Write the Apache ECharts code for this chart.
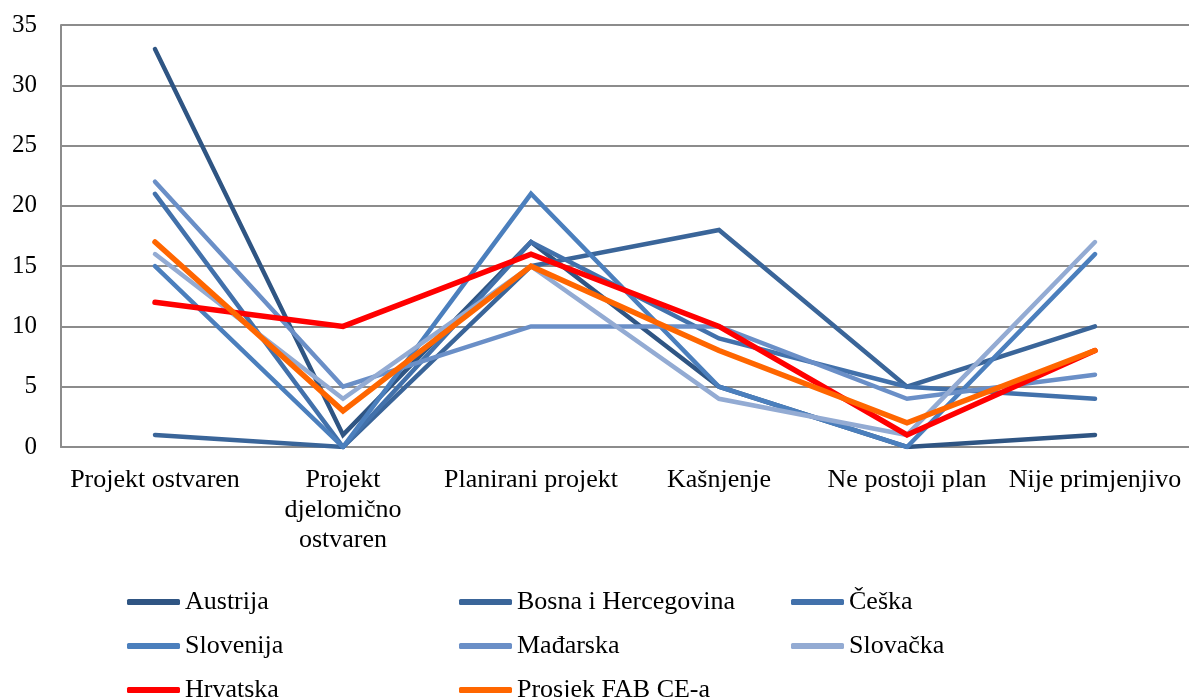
<!DOCTYPE html>
<html>
<head>
<meta charset="utf-8">
<script src="https://cdn.jsdelivr.net/npm/echarts@6/dist/echarts.min.js"></script>
<style>
    html, body { margin: 0; padding: 0; background: #fff; }
    #chart { width: 1189px; height: 697px; }
</style>
</head>
<body>
<div id="chart"></div>
<script>
// kategorije i vrijednosti procitane sa slike
const categories = ['Projekt ostvaren', 'Projekt\ndjelomično\nostvaren', 'Planirani projekt', 'Kašnjenje', 'Ne postoji plan', 'Nije primjenjivo'];
const yTicks = [0, 5, 10, 15, 20, 25, 30, 35];

const austrija = [33, 1, 17, 5, 0, 1];
const bosna = [1, 0, 15, 18, 5, 10];
const ceska = [21, 0, 17, 9, 5, 4];
const slovenija = [15, 0, 21, 5, 0, 16];
const madarska = [22, 5, 10, 10, 4, 6];
const slovacka = [16, 4, 15, 4, 1, 17];
const hrvatska = [12, 10, 16, 10, 1, 8];
const prosjek = [17, 3, 15, 8, 2, 8];

const seriesNames = ['Austrija', 'Bosna i Hercegovina', 'Češka', 'Slovenija', 'Mađarska', 'Slovačka', 'Hrvatska', 'Prosjek FAB CE-a'];
const seriesData = [austrija, bosna, ceska, slovenija, madarska, slovacka, hrvatska, prosjek];
const colors = ['#2f5583', '#3a6599', '#4271ab', '#4b7fbd', '#6a8fc7', '#93abd3', '#ff0000', '#ff6600'];
const widths = [4.5, 4.5, 4.5, 4.5, 4.5, 4.5, 5.5, 5.5];

let chartDom = document.getElementById('chart');
let myChart = echarts.init(chartDom);
let option;

const font = '"Liberation Serif", "Times New Roman", serif';

function legendCol(left, names) {
    return {
        data: names,
        orient: 'vertical',
        left: left,
        top: 584,
        height: 200,
        icon: 'roundRect',
        itemWidth: 53,
        itemHeight: 6,
        itemGap: 18,
        textStyle: { fontFamily: font, fontSize: 26, lineHeight: 26, color: '#000' }
    };
}

option = {
    animation: false,
    color: colors,
    grid: { left: 61, right: 0, top: 25, height: 422 },
    legend: [
        legendCol(122, ['Austrija', 'Slovenija', 'Hrvatska']),
        legendCol(454, ['Bosna i Hercegovina', 'Mađarska', 'Prosjek FAB CE-a']),
        legendCol(786, ['Češka', 'Slovačka'])
    ],
    xAxis: {
        type: 'category',
        data: categories,
        boundaryGap: true,
        axisLine: { show: true, lineStyle: { color: '#8c8c8c', width: 2 } },
        axisTick: { show: false },
        axisLabel: {
            fontFamily: font, fontSize: 26, color: '#000',
            lineHeight: 30, margin: 18, interval: 0
        }
    },
    yAxis: {
        type: 'value',
        min: 0,
        max: 35,
        interval: 5,
        axisLine: { show: true, lineStyle: { color: '#8c8c8c', width: 2 } },
        axisTick: { show: false },
        splitLine: { lineStyle: { color: '#8c8c8c', width: 2 } },
        axisLabel: {
            fontFamily: font, fontSize: 25, color: '#000', margin: 24,
            formatter: function (v) { return yTicks.indexOf(v) >= 0 ? String(v) : ''; }
        }
    },
    series: seriesNames.map(function (name, i) {
        return {
            name: name,
            type: 'line',
            data: seriesData[i],
            symbol: 'none',
            lineStyle: { width: widths[i], color: colors[i], cap: 'round', join: 'miter' },
            itemStyle: { color: colors[i] },
            z: i
        };
    })
};

option && myChart.setOption(option);
</script>
</body>
</html>
